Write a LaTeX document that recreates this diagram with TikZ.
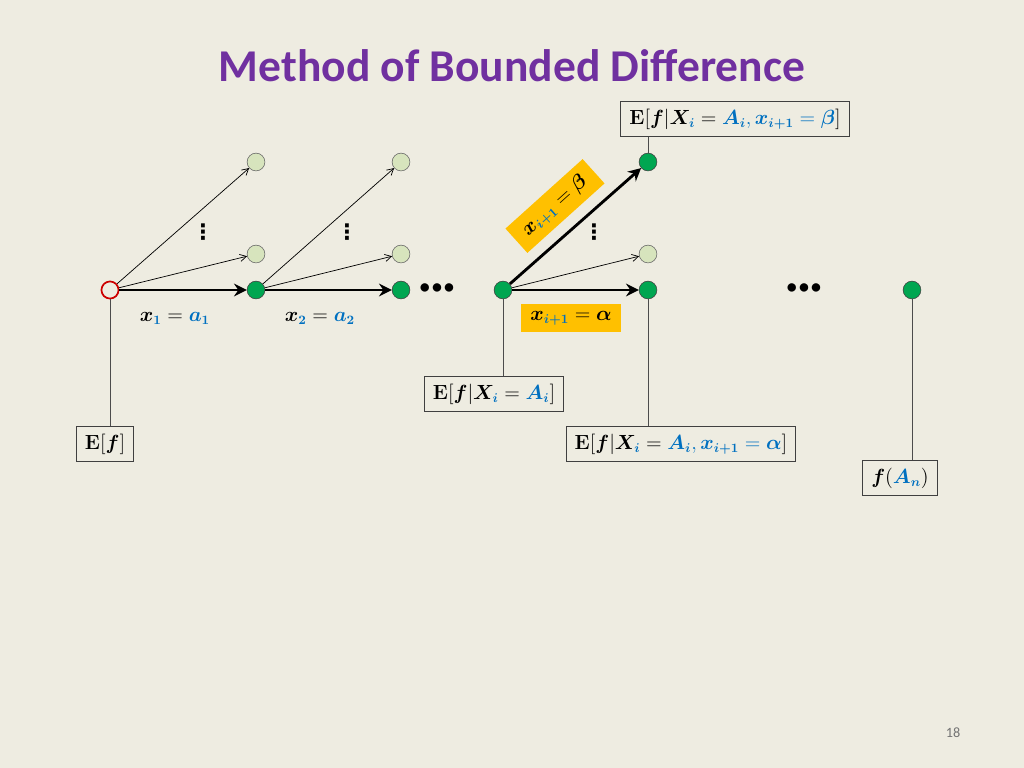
\documentclass[tikz,border=0pt]{standalone}
\usepackage{amsmath}
\usepackage[no-math]{fontspec}
\setmainfont{Carlito}
\newfontfamily\dotsfont{DejaVu Sans}
\usepackage{bm}
\usepackage{xcolor}
\usetikzlibrary{arrows.meta,positioning}

\definecolor{slidebg}{RGB}{238,236,225}
\definecolor{titlepurple}{RGB}{112,48,160}
\definecolor{mblue}{RGB}{0,112,192}
\definecolor{nodegreen}{RGB}{0,166,81}
\definecolor{palegreen}{RGB}{215,228,189}
\definecolor{tagyellow}{RGB}{255,192,0}

\newcommand{\bl}[1]{\textcolor{mblue}{#1}}
\newcommand{\xs}[1]{\bm{x}_{\bl{\bm{#1}}}}
\newcommand{\Xsi}{\bm{X}_{\bl{\bm{i}}}}
\newcommand{\Asi}{\bl{\bm{A}_{\bm{i}}}}

\tikzset{
  chosen/.style={circle,draw=black!75,fill=nodegreen,inner sep=0pt,minimum size=12.5pt},
  other/.style={circle,draw=black!60,fill=palegreen,inner sep=0pt,minimum size=12.5pt},
  root/.style={circle,draw=red!80!black,fill=slidebg,line width=1.2pt,inner sep=0pt,minimum size=12pt},
  pick/.style={-{Stealth[length=9pt,width=9pt,inset=3pt]},line width=2pt},
  alt/.style={-{Straight Barb[length=4.5pt,width=5pt]},line width=0.5pt},
  drop/.style={draw=black!70,line width=0.6pt},
  valbox/.style={draw=black!75,fill=slidebg,line width=0.7pt,inner xsep=6pt,inner ysep=3pt,minimum height=24pt,font=\fontsize{13.5}{15}\selectfont},
  tag/.style={fill=tagyellow,inner sep=3pt,minimum height=20pt,font=\fontsize{13.5}{15}\selectfont},
  vdot/.style={font=\dotsfont\bfseries\fontsize{15}{15}\selectfont},
  hdots/.style={font=\fontsize{14}{14}\selectfont\bfseries}
}

\begin{document}
\begin{tikzpicture}[x=0.703pt,y=-0.703pt]
\fill[slidebg] (0,0) rectangle (1024,768);
\useasboundingbox (0,0) rectangle (1024,768);

% title
\node[text=titlepurple,font=\fontsize{32}{38}\selectfont\bfseries] (title) at (512,66) {Method of Bounded Difference};

% nodes of the tree
\node[root] (r0) at (110,290) {};
\node[chosen] (v1) at (256,290) {};
\node[other] (u1) at (256,162) {};
\node[other] (w1) at (256,254) {};
\node[chosen] (v2) at (401,290) {};
\node[other] (u2) at (401,162) {};
\node[other] (w2) at (401,254) {};
\node[chosen] (vi) at (503,290) {};
\node[chosen] (va) at (648,290) {};
\node[chosen] (vb) at (648,162) {};
\node[other] (wi) at (648,254) {};
\node[chosen] (vn) at (912,290) {};

% skipped branches
\node[vdot] (d1) at (203,232) {⋮};
\node[vdot] (d2) at (347,232) {⋮};
\node[vdot] (d3) at (594,232) {⋮};
\node[hdots] (h1) at (437,289) {\textbullet\hspace{1.5pt}\textbullet\hspace{1.5pt}\textbullet};
\node[hdots] (h2) at (804,289) {\textbullet\hspace{1.5pt}\textbullet\hspace{1.5pt}\textbullet};

% edges
\draw[alt] (r0) -- (u1);
\draw[alt] (r0) -- (w1);
\draw[pick] (r0) -- (v1);
\draw[alt] (v1) -- (u2);
\draw[alt] (v1) -- (w2);
\draw[pick] (v1) -- (v2);
\draw[alt] (vi) -- (wi);
\draw[pick] (vi) -- (va);
\draw[pick] (vi) -- (vb);

% edge labels
\node[font=\fontsize{13.5}{15}\selectfont] (l1) at (175,318) {$\xs{1} = \bl{\bm{a}_{\bm{1}}}$};
\node[font=\fontsize{13.5}{15}\selectfont] (l2) at (320,318) {$\xs{2} = \bl{\bm{a}_{\bm{2}}}$};
\node[tag,minimum width=70pt] (ta) at (571,318) {$\xs{i+1} = \bm{\alpha}$};
\node[tag,minimum width=73pt,minimum height=23pt,rotate=42] (tb) at (555,206) {$\xs{i+1} = \bm{\beta}$};

% conditional expectations
\node[valbox] (eb) at (735,119) {$\mathbf{E}[\bm{f}|\Xsi = \Asi\bl{,}\, \bl{\xs{i+1} = \bm{\beta}}]$};
\node[valbox] (ei) at (494,394) {$\mathbf{E}[\bm{f}|\Xsi = \Asi]$};
\node[valbox] (e0) at (105,444) {$\mathbf{E}[\bm{f}]$};
\node[valbox] (ea) at (681,444) {$\mathbf{E}[\bm{f}|\Xsi = \Asi\bl{,}\, \bl{\xs{i+1} = \bm{\alpha}}]$};
\node[valbox] (en) at (900,478) {$\bm{f}(\bl{\bm{A}_{\bm{n}}})$};

\draw[drop] (vb) -- (vb |- eb.south);
\draw[drop] (r0) -- (r0 |- e0.north);
\draw[drop] (vi) -- (vi |- ei.north);
\draw[drop] (va) -- (va |- ea.north);
\draw[drop] (vn) -- (vn |- en.north);

% page number
\node[text=black!55,font=\fontsize{10}{12}\selectfont] (pg) at (953,733) {18};
\end{tikzpicture}
\end{document}
